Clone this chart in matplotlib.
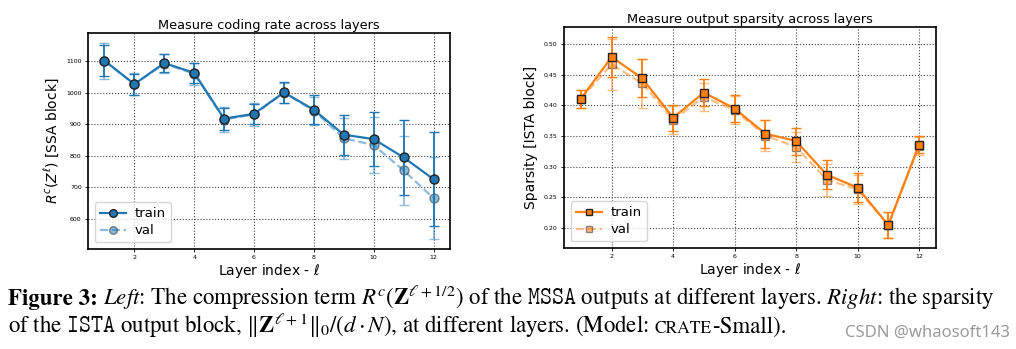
import matplotlib
matplotlib.use('Agg')
import matplotlib.pyplot as plt
from matplotlib.lines import Line2D

# ---------------- data ----------------
layers = list(range(1, 13))

rate_train = [1102, 1027, 1094, 1063, 918, 933, 1001, 946, 867, 853, 795, 726]
rate_train_err = [50, 33, 28, 32, 35, 32, 33, 46, 63, 85, 120, 148]
rate_val = [1100, 1027, 1092, 1060, 915, 931, 1000, 943, 856, 834, 754, 666]
rate_val_err = [58, 35, 30, 35, 40, 35, 32, 45, 65, 88, 110, 130]

sp_train = [0.411, 0.479, 0.444, 0.380, 0.421, 0.395, 0.354, 0.342, 0.287, 0.266, 0.205, 0.336]
sp_train_err = [0.015, 0.033, 0.031, 0.021, 0.022, 0.022, 0.023, 0.022, 0.024, 0.024, 0.021, 0.014]
sp_val = [0.411, 0.467, 0.436, 0.376, 0.414, 0.392, 0.351, 0.332, 0.279, 0.263, 0.205, 0.334]
sp_val_err = [0.015, 0.042, 0.040, 0.023, 0.023, 0.023, 0.025, 0.025, 0.026, 0.024, 0.021, 0.014]

titles = ["Measure coding rate across layers", "Measure output sparsity across layers"]
ylabels = [r"$R^c(Z^\ell)$ [SSA block]", "Sparsity [ISTA block]"]
xlabel = r"Layer index - $\ell$"
xticks = [2, 4, 6, 8, 10, 12]
sp_yticks = [0.20, 0.25, 0.30, 0.35, 0.40, 0.45, 0.50]

caption1a = "Figure 3:"
caption1b = (r"$\mathit{Left}$: The compression term $R^c(\mathbf{Z}^{\ell+1/2})$ of the "
             r"$\mathtt{MSSA}$ outputs at different layers. $\mathit{Right}$: the sparsity")
caption2a = (r"of the $\mathtt{ISTA}$ output block, $\|\mathbf{Z}^{\ell+1}\|_0/(d\cdot N)$, "
             r"at different layers. (Model:")
caption2b = "CRATE"
caption2c = "-Small)."
watermark = "CSDN @whaosoft143"

# ---------------- figure ----------------
plt.rcParams['mathtext.fontset'] = 'dejavusans'
fig = plt.figure(figsize=(10.16, 3.49), dpi=100)

ax1 = fig.add_axes([0.0866, 0.2865, 0.3563, 0.6189])
ax2 = fig.add_axes([0.5551, 0.2894, 0.3661, 0.6341])


def draw(ax, tr, tre, va, vae, color, marker, ms):
    ax.errorbar(layers, tr, yerr=tre, fmt='-', marker=marker, color=color,
                mec='#222222', mew=1.0, ms=ms, lw=1.6, capsize=3.5, elinewidth=1.3,
                capthick=1.0, zorder=3)
    ax.errorbar(layers, va, yerr=vae, fmt='--', marker=marker, color=color,
                mec='#222222', mew=1.0, ms=ms, lw=1.6, capsize=3.5, elinewidth=1.3,
                capthick=1.0, alpha=0.5, zorder=2)
    handles = [
        Line2D([], [], ls='-', marker=marker, color=color, mec='#222222', mew=1.0,
               ms=ms * 0.85, lw=1.6),
        Line2D([], [], ls='--', marker=marker, color=color, mec='#222222', mew=1.0,
               ms=ms * 0.85, lw=1.6, alpha=0.5),
    ]
    ax.legend(handles, ['train', 'val'], loc='lower left', fontsize=9.5,
              handlelength=2.0, borderpad=0.4, labelspacing=0.3, handletextpad=0.6)


draw(ax1, rate_train, rate_train_err, rate_val, rate_val_err, '#1f77b4', 'o', 6.5)
draw(ax2, sp_train, sp_train_err, sp_val, sp_val_err, '#ff7f0e', 's', 5.5)

for ax, t, yl in zip([ax1, ax2], titles, ylabels):
    ax.set_title(t, fontsize=9.3, pad=3)
    ax.set_ylabel(yl, fontsize=10, labelpad=4)
    ax.set_xlabel(xlabel, fontsize=10, labelpad=1)
    ax.set_xticks(xticks)
    ax.tick_params(labelsize=4.5, length=2.5, width=0.6, pad=2)
    ax.grid(True, linestyle=':', color='#444444', linewidth=0.8)
    for s in ax.spines.values():
        s.set_linewidth(1.2)

ax2.set_yticks(sp_yticks)
ax2.set_yticklabels([f"{v:.2f}" for v in sp_yticks])

# ---------------- caption ----------------
plt.rcParams['mathtext.fontset'] = 'stix'
cap_kw = dict(family='STIXGeneral', fontsize=16.5, va='baseline', ha='left')
W = 1016
fig.canvas.draw()
r = fig.canvas.get_renderer()

y1 = 1 - 305 / 349
t1a = fig.text(8 / W, y1, caption1a, fontweight='bold', **cap_kw)
bb = t1a.get_window_extent(r)
fig.text((bb.x1 + 5) / W, y1, caption1b, **cap_kw)

y2 = 1 - 333 / 349
t_a = fig.text(8 / W, y2, caption2a, **cap_kw)
bb = t_a.get_window_extent(r)
t_b = fig.text((bb.x1 + 6) / W, y2, caption2b, family='STIXGeneral', fontsize=12.5,
               va='baseline', ha='left')
bb2 = t_b.get_window_extent(r)
fig.text((bb2.x1 + 0.5) / W, y2, caption2c, **cap_kw)

fig.text(1010 / W, 1 - 337 / 349, watermark, family='Noto Sans', fontsize=12,
         color='#9a9a9a', ha='right', va='baseline')

fig.savefig('out.png', dpi=100)
